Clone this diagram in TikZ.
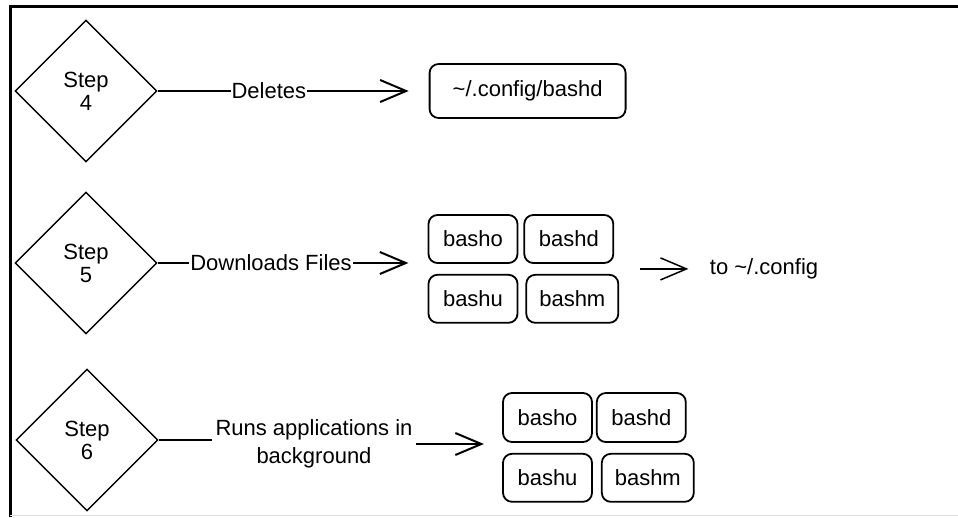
\documentclass[tikz,border=0pt]{standalone}
\usepackage{fontspec}
\setmainfont{Liberation Sans}
\usetikzlibrary{positioning}
\usetikzlibrary{arrows.meta}
\usetikzlibrary{shapes,fit}
\tikzset{diamond node/.style={diamond,draw,line width=1.4pt,aspect=1,minimum width=142pt,minimum height=142pt,inner sep=0pt,align=center,font=\fontsize{22}{23}\selectfont},
	file node/.style={rectangle,draw,line width=1.8pt,rounded corners=9pt,minimum width=89pt,minimum height=48pt,inner sep=2pt},
	flow label/.style={fill=white,inner sep=1pt},
	flow/.style={->,line width=2pt},}

\begin{document}
\begin{tikzpicture}[x=1pt, y=-1pt, >={Straight Barb[length=26pt,width=22pt]}, font=\fontsize{22}{28}\selectfont, node distance=5pt]
	\useasboundingbox (0,0) rectangle (958,517);
	% frame
	\draw[line width=3pt] (10,517) -- (10,6.5) -- (958,6.5);
	\draw[black!12, line width=1pt] (10,515.5) -- (958,515.5);

	% step 4
	\node[diamond node] (s4) at (86,91) {Step\\4};
	\node[file node, minimum width=196pt, minimum height=54pt] (cfg) [right=271pt of s4] {\textasciitilde/.config/bashd};
	\draw[flow, shorten >=20pt] (s4) -- node[flow label, pos=0.41] {Deletes} (cfg);

	% step 5
	\node[diamond node] (s5) at (86,263) {Step\\5};
	\node[file node] (o5) at (473,239) {basho};
	\node[file node] (d5) [right=5pt of o5] {bashd};
	\node[file node] (u5) [below=10pt of o5] {bashu};
	\node[file node, minimum width=92pt] (m5) [right=7pt of u5] {bashm};
	\node[fit=(o5)(d5)(u5)(m5), inner sep=0pt] (grid5) {};
	\node (dest5) [right=87pt of grid5] {to \textasciitilde/.config};
	\draw[flow, shorten >=19pt] (s5) -- node[flow label, pos=0.42] {Downloads Files} (s5 -| grid5.west);
	\draw[flow, line width=1.5pt, shorten <=21pt, shorten >=18pt] (grid5) -- (dest5);

	% step 6
	\node[diamond node] (s6) at (87,440) {Step\\6};
	\node[align=center] (run6) at (314,444) {Runs applications in\\background};
	\node[file node, minimum height=49pt] (o6) at (547.5,417.5) {basho};
	\node[file node, minimum height=49pt] (d6) [right=3pt of o6] {bashd};
	\node[file node] (u6) [below=10pt of o6] {bashu};
	\node[file node, minimum width=92pt] (m6) [right=8pt of u6] {bashm};
	\node[fit=(o6)(d6)(u6)(m6), inner sep=0pt] (grid6) {};
	\draw[line width=2pt] (s6) -- (s6 -| run6.west);
	\draw[flow, shorten >=18pt] (run6) -- (run6 -| grid6.west);
\end{tikzpicture}
\end{document}
